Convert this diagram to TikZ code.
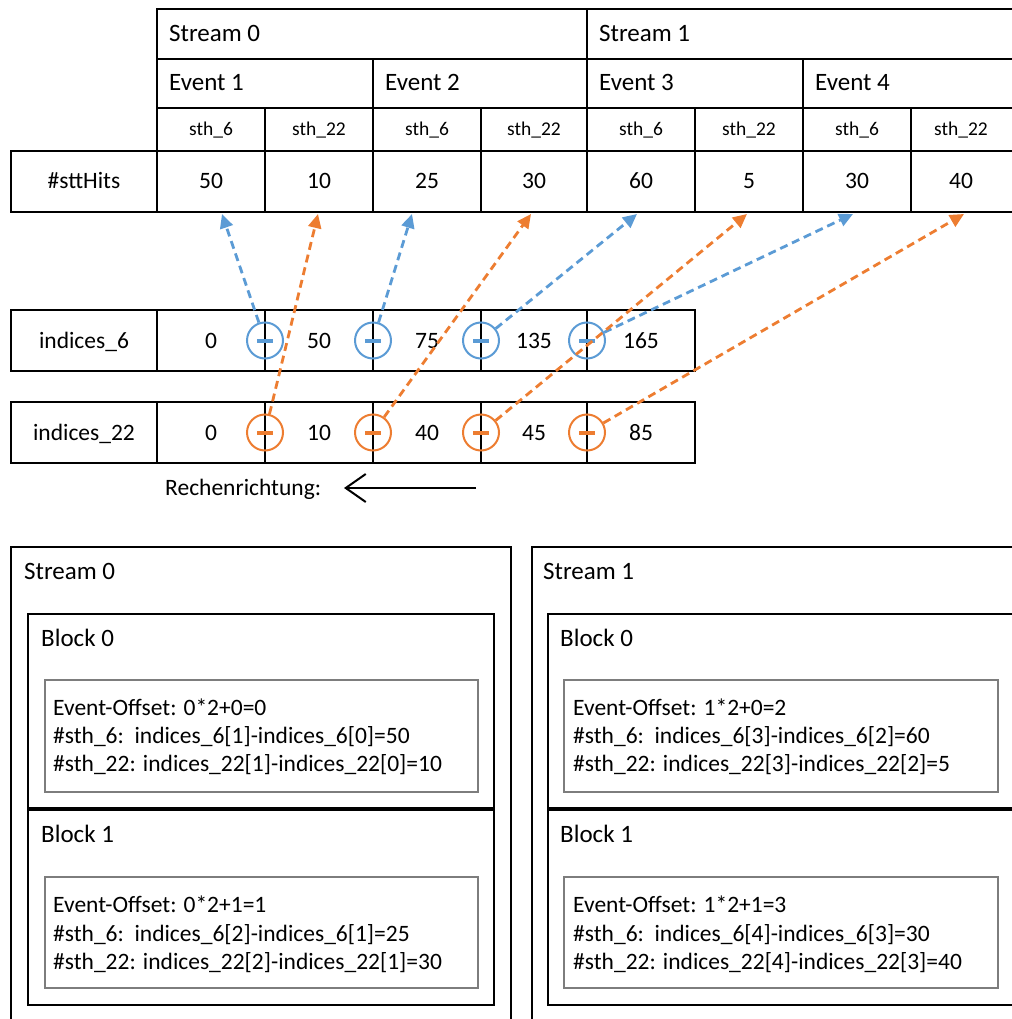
\documentclass[tikz,border=0pt]{standalone}
\usepackage{fontspec}
\setmainfont{Carlito}
\usetikzlibrary{arrows.meta}
\definecolor{hitblue}{RGB}{91,155,213}
\definecolor{hitorange}{RGB}{237,125,49}
\definecolor{boxgray}{RGB}{125,125,125}

\begin{document}
\begin{tikzpicture}[x=1pt,y=-1pt,
  grid/.style={line width=2pt, black, line cap=rect},
  head/.style={anchor=base west, inner sep=0, font=\fontsize{25}{30}\selectfont},
  cell/.style={anchor=base, inner sep=0, font=\fontsize{23.5}{28}\selectfont},
  small/.style={anchor=base, inner sep=0, font=\fontsize{19.5}{23}\selectfont},
  body/.style={anchor=base west, inner sep=0, font=\fontsize{23.5}{28}\selectfont},
  minusop/.style={circle, draw=#1, line width=2pt, minimum size=36pt, inner sep=0},
  minusbar/.style={line width=4pt},
  flow/.style={line width=2.8pt, dash pattern=on 8pt off 5pt,
    -{Triangle[length=14pt,width=13pt]}},
  inner/.style={draw=boxgray, line width=1.3pt}
]
\useasboundingbox (0,0) rectangle (1011,1019);

% ---------- hit count table ----------
\draw[grid] (157,9) -- (1015,9);
\draw[grid] (157,59) -- (1015,59);
\draw[grid] (157,108) -- (1015,108);
\draw[grid] (11,151) -- (1015,151);
\draw[grid] (11,212) -- (1015,212);
\draw[grid] (11,151) -- (11,212);
\draw[grid] (157,9) -- (157,212);
\draw[grid] (587,9) -- (587,212);
\foreach \x in {373,803} \draw[grid] (\x,59) -- (\x,212);
\foreach \x in {265,481,695,911} \draw[grid] (\x,108) -- (\x,212);

\node[head] (s0) at (169,41.5) {Stream 0};
\node[head] (s1) at (599,41.5) {Stream 1};
\foreach \x/\n in {169/1,385/2,599/3,815/4}
  \node[head] (ev\n) at (\x,90.7) {Event \n};
\foreach \x/\l [count=\i] in {211/6,319/22,427/6,534/22,641/6,749/22,857/6,961/22}
  \node[small] (sth\i) at (\x,136) {sth\_\l};
\node[cell] (hitslabel) at (84,189) {\#sttHits};
\foreach \x/\v [count=\i] in {211/50,319/10,427/25,534/30,641/60,749/5,857/30,961/40}
  \node[cell] (hit\i) at (\x,189) {\v};

% arrow targets under the hit cells
\foreach \x [count=\i] in {222,318,412,531,637,747,853,964}
  \coordinate (t\i) at (\x,214);

% ---------- index arrays ----------
\draw[grid] (11,310) rectangle (695,371);
\draw[grid] (11,402) rectangle (695,463);
\foreach \x in {157,265,373,481,587} {
  \draw[grid] (\x,310) -- (\x,371);
  \draw[grid] (\x,402) -- (\x,463);
}
\node[cell] (lab6) at (84,348.3) {indices\_6};
\node[cell] (lab22) at (84,440.7) {indices\_22};
\foreach \x/\v [count=\i] in {211/0,319/50,427/75,534/135,641/165}
  \node[cell] (ia\i) at (\x,348.3) {\v};
\foreach \x/\v [count=\i] in {211/0,319/10,427/40,534/45,641/85}
  \node[cell] (ib\i) at (\x,440.7) {\v};

% subtraction operators sitting on the cell borders
\foreach \x [count=\i] in {265,373,481,587} {
  \node[minusop=hitblue] (b\i) at (\x,340.5) {};
  \node[minusop=hitorange] (o\i) at (\x,432.5) {};
  \draw[minusbar, hitblue] ([xshift=-8pt]b\i.center) -- ([xshift=8pt]b\i.center);
  \draw[minusbar, hitorange] ([xshift=-8pt]o\i.center) -- ([xshift=8pt]o\i.center);
}

% subtraction results feeding the hit counts
\foreach \i/\t in {1/1,2/3,3/5,4/7}
  \draw[flow, hitblue] (b\i) -- (t\t);
\foreach \i/\t in {1/2,2/4,3/6,4/8}
  \draw[flow, hitorange] (o\i) -- (t\t);

% direction of computation
\node[body] (rr) at (165,495) {Rechenrichtung:};
\coordinate (rrstart) at (476,488);
\coordinate (rrend) at (344,488);
\draw[line width=2pt, -{Straight Barb[length=20pt,width=28pt]}] (rrstart) -- (rrend);

% ---------- stream / block boxes ----------
\draw[grid] (11,1030) -- (11,547) -- (511,547) -- (511,1030);
\draw[grid] (532,1030) -- (532,547) -- (1030,547);
\node[head] (ls0) at (24,579.3) {Stream 0};
\node[head] (ls1) at (543,579.3) {Stream 1};

\draw[grid] (28,614) rectangle (494,808);
\draw[grid] (28,810) rectangle (494,1005);
\draw[grid] (1030,614) -- (548,614) -- (548,808) -- (1030,808);
\draw[grid] (1030,810) -- (548,810) -- (548,1005) -- (1030,1005);

\node[head] (b00) at (41,646) {Block 0};
\node[head] (b01) at (41,842.7) {Block 1};
\node[head] (b10) at (560,646) {Block 0};
\node[head] (b11) at (560,842.7) {Block 1};

\draw[inner] (45,680) rectangle (478,792);
\draw[inner] (45,877) rectangle (478,988);
\draw[inner] (564,680) rectangle (998,792);
\draw[inner] (564,877) rectangle (998,988);

\node[body] (c00a) at (53,715.7) {Event-Offset: 0*2+0=0};
\node[body] (c00b) at (53,743.3) {\#sth\_6:\ \ indices\_6[1]-indices\_6[0]=50};
\node[body] (c00c) at (53,771.7) {\#sth\_22: indices\_22[1]-indices\_22[0]=10};

\node[body] (c01a) at (53,912.7) {Event-Offset: 0*2+1=1};
\node[body] (c01b) at (53,941) {\#sth\_6:\ \ indices\_6[2]-indices\_6[1]=25};
\node[body] (c01c) at (53,969) {\#sth\_22: indices\_22[2]-indices\_22[1]=30};

\node[body] (c10a) at (573,715.7) {Event-Offset: 1*2+0=2};
\node[body] (c10b) at (573,743.3) {\#sth\_6:\ \ indices\_6[3]-indices\_6[2]=60};
\node[body] (c10c) at (573,771.7) {\#sth\_22: indices\_22[3]-indices\_22[2]=5};

\node[body] (c11a) at (573,912.7) {Event-Offset: 1*2+1=3};
\node[body] (c11b) at (573,941) {\#sth\_6:\ \ indices\_6[4]-indices\_6[3]=30};
\node[body] (c11c) at (573,969) {\#sth\_22: indices\_22[4]-indices\_22[3]=40};
\end{tikzpicture}
\end{document}
